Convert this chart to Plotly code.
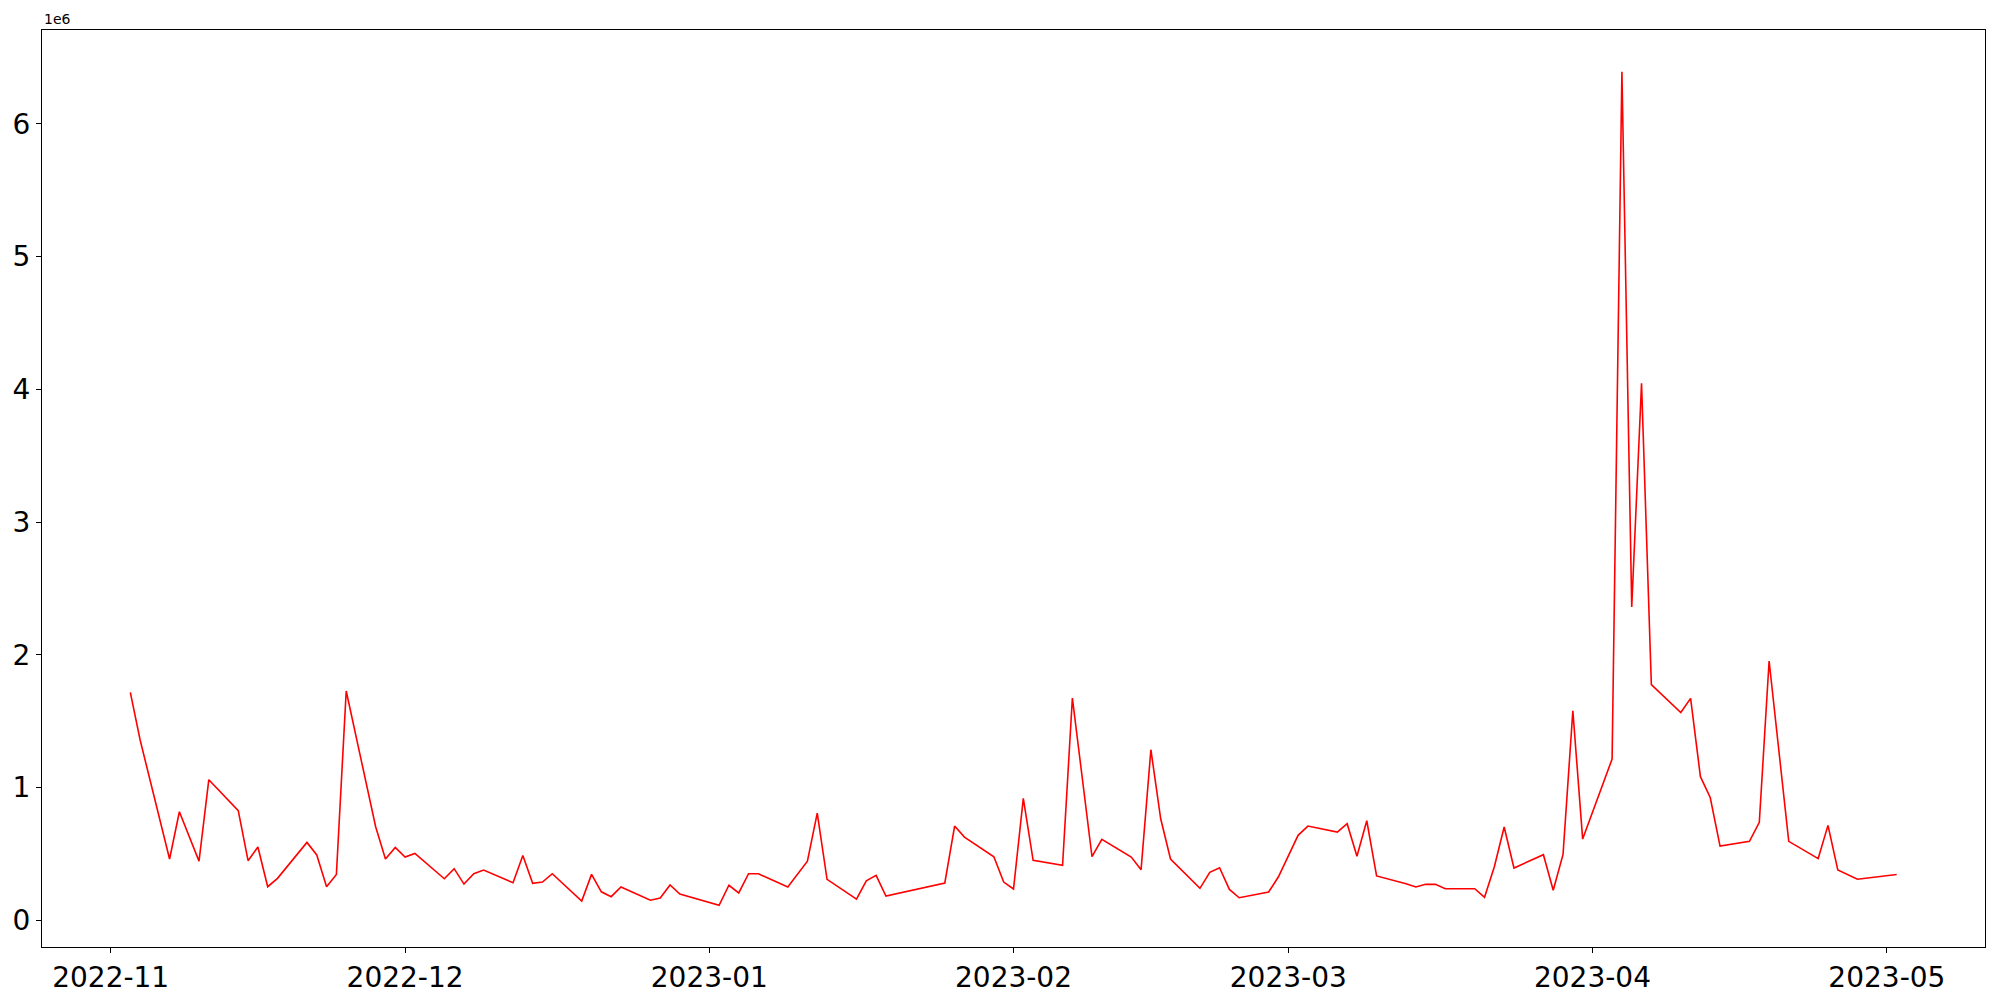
import plotly.graph_objects as go
import pandas as pd

dates = [
    "2022-11-03", "2022-11-04", "2022-11-07", "2022-11-08", "2022-11-10", "2022-11-11",
    "2022-11-14", "2022-11-15", "2022-11-16", "2022-11-17", "2022-11-18", "2022-11-21",
    "2022-11-22", "2022-11-23", "2022-11-24", "2022-11-25", "2022-11-28", "2022-11-29",
    "2022-11-30", "2022-12-01", "2022-12-02", "2022-12-05", "2022-12-06", "2022-12-07",
    "2022-12-08", "2022-12-09", "2022-12-12", "2022-12-13", "2022-12-14", "2022-12-15",
    "2022-12-16", "2022-12-19", "2022-12-20", "2022-12-21", "2022-12-22", "2022-12-23",
    "2022-12-26", "2022-12-27", "2022-12-28", "2022-12-29", "2023-01-02", "2023-01-03",
    "2023-01-04", "2023-01-05", "2023-01-06", "2023-01-09", "2023-01-11", "2023-01-12",
    "2023-01-13", "2023-01-16", "2023-01-17", "2023-01-18", "2023-01-19", "2023-01-25",
    "2023-01-26", "2023-01-27", "2023-01-30", "2023-01-31", "2023-02-01", "2023-02-02",
    "2023-02-03", "2023-02-06", "2023-02-07", "2023-02-09", "2023-02-10", "2023-02-13",
    "2023-02-14", "2023-02-15", "2023-02-16", "2023-02-17", "2023-02-20", "2023-02-21",
    "2023-02-22", "2023-02-23", "2023-02-24", "2023-02-27", "2023-02-28", "2023-03-02",
    "2023-03-03", "2023-03-06", "2023-03-07", "2023-03-08", "2023-03-09", "2023-03-10",
    "2023-03-13", "2023-03-14", "2023-03-15", "2023-03-16", "2023-03-17", "2023-03-20",
    "2023-03-21", "2023-03-22", "2023-03-23", "2023-03-24", "2023-03-27", "2023-03-28",
    "2023-03-29", "2023-03-30", "2023-03-31", "2023-04-03", "2023-04-04", "2023-04-05",
    "2023-04-06", "2023-04-07", "2023-04-10", "2023-04-11", "2023-04-12", "2023-04-13",
    "2023-04-14", "2023-04-17", "2023-04-18", "2023-04-19", "2023-04-21", "2023-04-24",
    "2023-04-25", "2023-04-26", "2023-04-28", "2023-05-02",
]

# values in units of 1e6
values = [
    1.717, 1.358, 0.462, 0.818, 0.446, 1.059,
    0.826, 0.449, 0.552, 0.253, 0.316, 0.587,
    0.492, 0.253, 0.346, 1.727, 0.705, 0.462,
    0.549, 0.477, 0.504, 0.313, 0.389, 0.273,
    0.351, 0.379, 0.283, 0.489, 0.279, 0.288,
    0.351, 0.145, 0.346, 0.215, 0.178, 0.251,
    0.151, 0.168, 0.266, 0.198, 0.113, 0.264,
    0.206, 0.351, 0.351, 0.251, 0.446, 0.808,
    0.309, 0.160, 0.298, 0.339, 0.183, 0.281,
    0.710, 0.627, 0.479, 0.288, 0.236, 0.918,
    0.452, 0.414, 1.674, 0.479, 0.610, 0.477,
    0.381, 1.285, 0.765, 0.462, 0.241, 0.361,
    0.396, 0.233, 0.170, 0.213, 0.328, 0.640,
    0.710, 0.665, 0.728, 0.482, 0.750, 0.334,
    0.276, 0.251, 0.271, 0.271, 0.238, 0.238,
    0.173, 0.404, 0.703, 0.394, 0.494, 0.226,
    0.497, 1.578, 0.612, 1.215, 6.392, 2.360,
    4.045, 1.775, 1.565, 1.672, 1.082, 0.925,
    0.559, 0.595, 0.738, 1.953, 0.595, 0.465,
    0.715, 0.380, 0.309, 0.345,
]

y_tick_vals = [0, 1, 2, 3, 4, 5, 6]
y_tick_text = ["0", "1", "2", "3", "4", "5", "6"]
offset_label = "1e6"

d = pd.to_datetime(dates)
span = d.max() - d.min()
x_range = [d.min() - span * 0.05, d.max() + span * 0.05]
vmin, vmax = min(values), max(values)
vspan = vmax - vmin
y_range = [vmin - 0.05 * vspan, vmax + 0.05 * vspan]

FONT = "DejaVu Sans"

fig = go.Figure()
fig.add_trace(go.Scatter(x=d, y=values, mode="lines",
                         line=dict(color="red", width=1.6), showlegend=False))

axis_common = dict(showgrid=False, zeroline=False, showline=True, mirror=True,
                   linecolor="black", linewidth=1.1, ticks="outside", ticklen=5,
                   tickwidth=1.1, tickcolor="black", automargin=False,
                   tickfont=dict(family=FONT, size=28, color="black"))

fig.update_xaxes(type="date", range=x_range, dtick="M1", tick0="2022-11-01",
                 tickformat="%Y-%m", **axis_common)
fig.update_yaxes(range=y_range, tickmode="array", tickvals=y_tick_vals,
                 ticktext=y_tick_text, **axis_common)

fig.add_annotation(text=offset_label, xref="paper", yref="paper", x=0, y=1,
                   xanchor="left", yanchor="bottom", showarrow=False, yshift=1,
                   font=dict(family=FONT, size=14, color="black"))

fig.update_layout(width=2000, height=1000, autosize=False,
                  margin=dict(l=42, r=15, t=30, b=53, pad=0, autoexpand=False),
                  paper_bgcolor="white", plot_bgcolor="white",
                  font=dict(family=FONT, color="black"))

fig.write_html("out.html", config={"displayModeBar": False},
               post_script="document.body.style.margin='0';document.body.style.overflow='hidden';")
